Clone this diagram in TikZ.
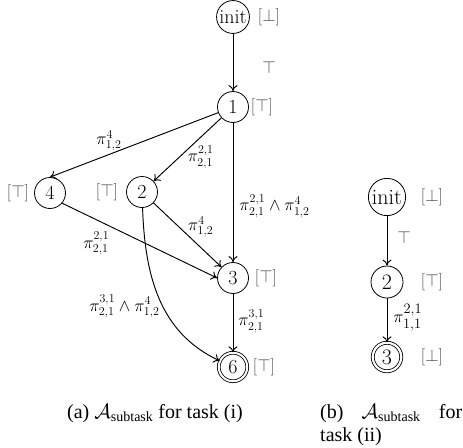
\documentclass[tikz,border=0pt]{standalone}
\usepackage{amsmath}
\usepackage{fontspec}
\newfontfamily\capfont{Liberation Serif}
\usetikzlibrary{arrows.meta}
\begin{document}
\begin{tikzpicture}[x=1pt,y=-1pt,
  st/.style={circle, draw, line width=0.8pt, minimum size=31pt, inner sep=1pt, font=\fontsize{20}{24}\selectfont},
  acc/.style={st, double, double distance=2pt, minimum size=28.5pt},
  stb/.style={st, minimum size=32pt, inner sep=1.5pt, font=\fontsize{22}{26}\selectfont},
  accb/.style={stb, double, double distance=2.2pt, minimum size=28.5pt},
  br/.style={text=black!70, font=\fontsize{16.5}{20}\selectfont, inner sep=0pt},
  brb/.style={br, font=\fontsize{18.5}{22}\selectfont},
  lb/.style={font=\fontsize{18}{21}\selectfont, inner sep=0pt},
  lbb/.style={lb, font=\fontsize{19}{22}\selectfont},
  tp/.style={text=black!70},
  arr/.style={line width=0.95pt, -{To[length=6pt,width=9pt]}},
  captext/.style={font=\capfont\fontsize{20}{24}\selectfont, inner sep=0pt}]
\useasboundingbox (0,0) rectangle (463,447);
% left automaton
\node[st] (i) at (233,17) {init};
\node[st] (n1) at (233,107) {1};
\node[st] (n4) at (50,193) {4};
\node[st] (n2) at (142,192) {2};
\node[st] (n3) at (233,278) {3};
\node[acc] (n6) at (233,367) {6};
\node[br] (bi) at (269,17) {$[\bot]$};
\node[br] (b1) at (262,107) {$[\top]$};
\node[br] (b4) at (18,193) {$[\top]$};
\node[br] (b2) at (107,192) {$[\top]$};
\node[br] (b3) at (266,278) {$[\top]$};
\node[br] (b6) at (264,367) {$[\top]$};
\draw[arr] (i) -- node[lb, tp, pos=0.58, right=29pt] {$\top$} (n1);
\draw[arr] (n1) -- node[lb, pos=0.65, above=3pt] {$\pi^4_{1,2}$} (n4.north);
\draw[arr] (n1) -- node[lb, pos=0.62, right=8pt] {$\pi^{2,1}_{2,1}$} (n2);
\draw[arr] (n1) -- node[lb, pos=0.6, right=6pt] {$\pi^{2,1}_{2,1}\wedge\pi^4_{1,2}$} (n3);
\draw[arr] (n4.-40) -- node[lb, pos=0.22, below=12pt] {$\pi^{2,1}_{2,1}$} (n3.west);
\draw[arr] (n2) -- node[lb, pos=0.37, right=9pt] {$\pi^4_{1,2}$} (n3);
\draw[arr] (n2) to[out=-88, in=155] node[lb, pos=0.55, left=3pt] {$\pi^{3,1}_{2,1}\wedge\pi^4_{1,2}$} (n6);
\draw[arr] (n3) -- node[lb, pos=0.47, right=5pt] {$\pi^{3,1}_{2,1}$} (n6);
% right automaton
\node[stb] (ri) at (387,197) {init};
\node[stb] (r2) at (387,282) {2};
\node[accb] (r3) at (387,357) {3};
\node[brb] (bri) at (432,197) {$[\bot]$};
\node[brb] (br2) at (432,282) {$[\top]$};
\node[brb] (br3) at (432,357) {$[\bot]$};
\draw[arr] (ri) -- node[lbb, tp, pos=0.43, right=10pt] {$\top$} (r2);
\draw[arr] (r2) -- node[lbb, pos=0.44, right=6pt] {$\pi^{2,1}_{1,1}$} (r3);
% captions
\node[captext, anchor=base] (ca) at (155,418) {(a) $\mathcal{A}_{\text{subtask}}$ for task (i)};
\node[captext, anchor=base west] (cb1) at (320,418) {\makebox[142pt][l]{(b)\hfill$\mathcal{A}_{\text{subtask}}$\hfill for}};
\node[captext, anchor=base west] (cb2) at (320,441) {task (ii)};
\end{tikzpicture}
\end{document}
